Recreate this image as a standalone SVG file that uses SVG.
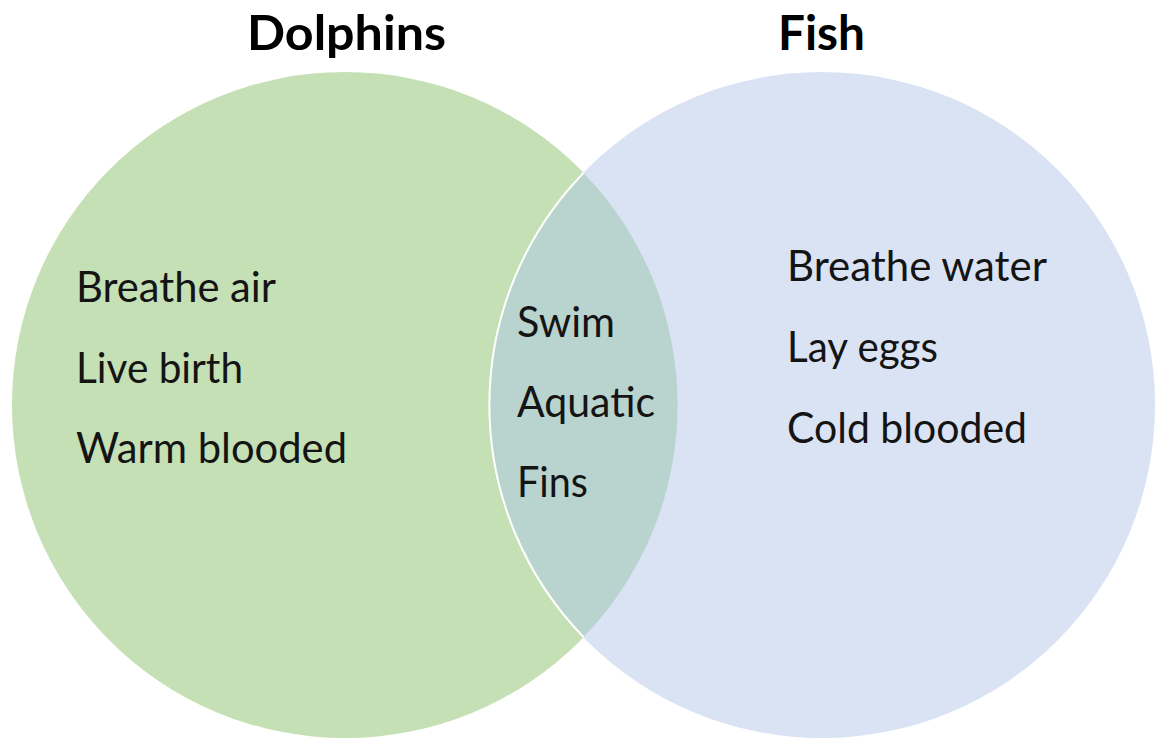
<svg xmlns="http://www.w3.org/2000/svg" width="1163" height="738" viewBox="0 0 1163 738">
<style>
.lbl{font-family:Lato,"Liberation Sans",sans-serif;font-size:42px;fill:#141414}
.ttl{font-family:Lato,"Liberation Sans",sans-serif;font-size:48px;font-weight:bold;fill:#000}
</style>
<rect width="1163" height="738" fill="#fff"/>
<g id="dolphins">
<circle cx="345" cy="405" r="333" fill="#C5E0B4"/>
<text class="ttl" x="247" y="50" textLength="199" lengthAdjust="spacingAndGlyphs">Dolphins</text>
<text class="lbl" x="76" y="302" textLength="200" lengthAdjust="spacingAndGlyphs">Breathe air</text>
<text class="lbl" x="76" y="383" textLength="167" lengthAdjust="spacingAndGlyphs">Live birth</text>
<text class="lbl" x="76" y="463" textLength="271" lengthAdjust="spacingAndGlyphs">Warm blooded</text>
</g>
<g id="fish">
<circle cx="822" cy="405" r="333" fill="#DAE3F3"/>
<text class="ttl" x="778" y="50" textLength="87" lengthAdjust="spacingAndGlyphs">Fish</text>
<text class="lbl" x="787" y="281" textLength="260" lengthAdjust="spacingAndGlyphs">Breathe water</text>
<text class="lbl" x="787" y="362" textLength="151" lengthAdjust="spacingAndGlyphs">Lay eggs</text>
<text class="lbl" x="787" y="443" textLength="240" lengthAdjust="spacingAndGlyphs">Cold blooded</text>
</g>
<g id="both">
<path d="M583.5,173 A333,333 0 0,0 583.5,637 A333,333 0 0,0 583.5,173 Z" fill="#B9D3CE"/>
<path d="M583.5,173 A333,333 0 0,0 583.5,637" fill="none" stroke="#fff" stroke-width="2"/>
<text class="lbl" x="517" y="337" textLength="98" lengthAdjust="spacingAndGlyphs">Swim</text>
<text class="lbl" x="517" y="417" textLength="138" lengthAdjust="spacingAndGlyphs">Aquatic</text>
<text class="lbl" x="517" y="497" textLength="71" lengthAdjust="spacingAndGlyphs">Fins</text>
</g>
</svg>
